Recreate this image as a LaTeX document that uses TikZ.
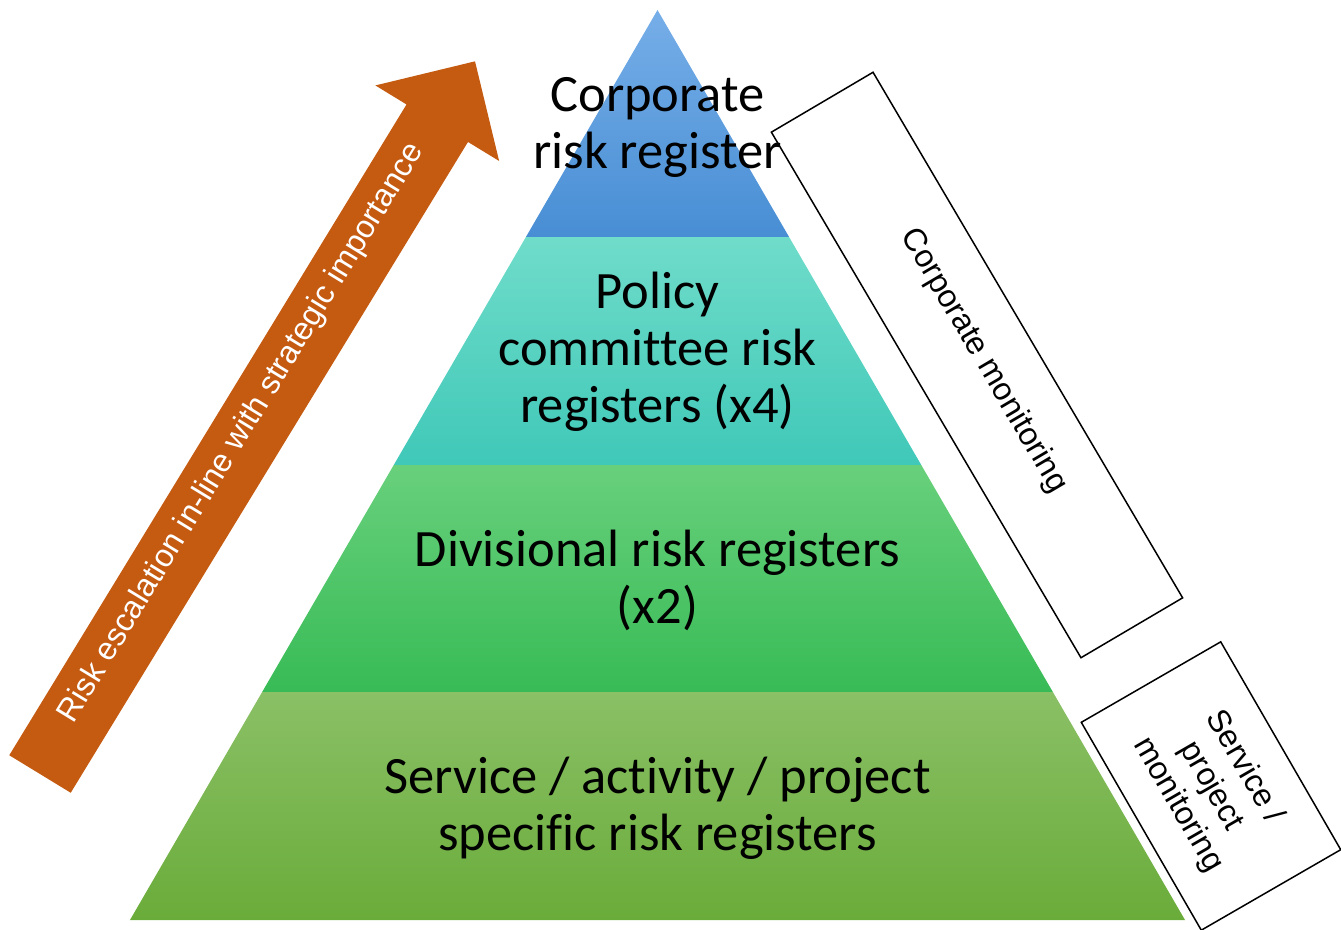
\documentclass[tikz,border=0pt]{standalone}
\usepackage{fontspec}
\setmainfont[Ligatures=NoCommon]{Carlito}
\newfontfamily\arialfont{Liberation Sans}
\usepackage{tikz}
\usetikzlibrary{shapes,calc}
\usepackage{xcolor}
\definecolor{esc-orange}{RGB}{197,90,17}
\definecolor{corp-top}{RGB}{118,174,232}
\definecolor{corp-bot}{RGB}{72,142,212}
\definecolor{policy-top}{RGB}{112,220,202}
\definecolor{policy-bot}{RGB}{64,200,184}
\definecolor{div-top}{RGB}{104,208,124}
\definecolor{div-bot}{RGB}{56,187,86}
\definecolor{serv-top}{RGB}{138,192,102}
\definecolor{serv-bot}{RGB}{106,172,58}
\tikzstyle{corpTier}=[top color=corp-top, bottom color=corp-bot]
\tikzstyle{policyTier}=[top color=policy-top, bottom color=policy-bot]
\tikzstyle{divTier}=[top color=div-top, bottom color=div-bot]
\tikzstyle{servTier}=[top color=serv-top, bottom color=serv-bot]
\tikzstyle{tierlabel}=[align=center, inner sep=0pt, font=\fontsize{52.5}{57}\selectfont]
\tikzstyle{monbox}=[draw, line width=1.5pt, align=center, inner sep=0pt, font=\arialfont\fontsize{32}{38}\selectfont]
\tikzstyle{esclabel}=[text=white, inner sep=0pt, font=\arialfont\fontsize{32}{37}\selectfont]
\newcommand{\pyrTier}[3]{
	\pgfmathsetmacro{\hwTop}{0.5797*(#2-10)}
	\pgfmathsetmacro{\hwBot}{0.5797*(#3-10)}
	\shade[#1] (657.5-\hwTop,#2) -- (657.5+\hwTop,#2) -- (657.5+\hwBot,#3) -- (657.5-\hwBot,#3) -- cycle;
}

\begin{document}
\begin{tikzpicture}[x=1pt,y=-1pt]
	\useasboundingbox (0,0) rectangle (1341,929);
	\pyrTier{corpTier}{10}{237}
	\pyrTier{policyTier}{237}{465}
	\pyrTier{divTier}{465}{692}
	\pyrTier{servTier}{692}{920}
	\node[tierlabel] (corp) at (657.5,127) {Corporate\\risk register};
	\node[tierlabel] (policy) at (657.5,352) {Policy\\committee risk\\registers (x4)};
	\node[tierlabel] (div) at (657.5,580) {Divisional risk registers\\(x2)};
	\node[tierlabel] (serv) at (657.5,808) {Service / activity / project\\specific risk registers};
	\node[monbox, rotate=-59.5, minimum width=610pt, minimum height=118pt, text height=23.5pt, text depth=22.8pt] (corpmon) at (977,365) {Corporate monitoring};
	\node[monbox, rotate=-60, minimum width=240pt, minimum height=161pt] (servmon) at (1211,786) {Service /\\project\\monitoring};
	\begin{scope}[shift={(40,774)}, rotate=58.6]
		\fill[esc-orange] (0,-36) -- (762.5,-36) -- (762.5,-72.5) -- (835,0) -- (762.5,72.5) -- (762.5,36) -- (0,36) -- cycle;
	\end{scope}
	\node[esclabel, rotate=58.6] (esctext) at (242,433) {Risk escalation in-line with strategic importance};
\end{tikzpicture}
\end{document}
